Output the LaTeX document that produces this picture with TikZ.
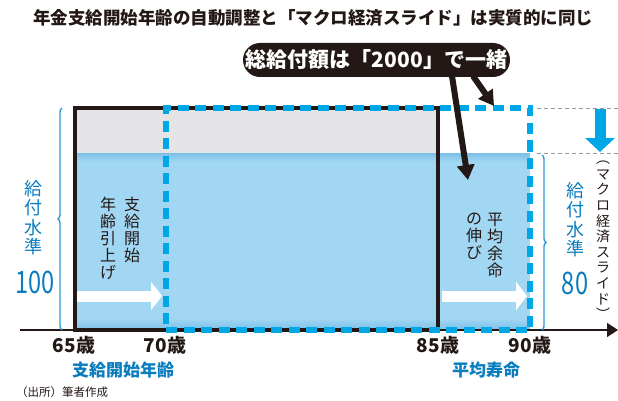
\documentclass[tikz,border=0pt]{standalone}
\usepackage{fontspec}
\usepackage{graphicx}
\setmainfont{Noto Sans CJK JP}
\usetikzlibrary{arrows.meta,decorations.pathreplacing}
\definecolor{ink}{HTML}{231815}
\definecolor{fillblue}{HTML}{A2D7F3}
\definecolor{edgeblue}{HTML}{7CC0E8}
\definecolor{graybox}{HTML}{E4E4E6}
\definecolor{dashblue}{HTML}{00A7E6}
\definecolor{txtblue}{HTML}{0A7DBF}
\definecolor{braceblue}{HTML}{2A9BD8}
\definecolor{guide}{HTML}{9A9A9A}
\tikzset{
  vcol/.style n args={2}{align=center,inner sep=0pt,font=\fontsize{#1}{#2}\selectfont},
  bluelbl/.style={text=txtblue,font=\bfseries\fontsize{17}{17}\selectfont,inner sep=0pt},
  agelbl/.style={text=ink,font=\bfseries\fontsize{19}{19}\selectfont,inner sep=0pt},
  wharrow/.style={white,line width=11pt,-{Triangle[width=28pt,length=11pt]}},
  blkarrow/.style={ink,line width=6pt,-{Triangle[width=17pt,length=15pt]}},
  bracestyle/.style={braceblue,line width=1.4pt,decorate,decoration={brace,amplitude=4pt,raise=0pt}},
}
\begin{document}
\begin{tikzpicture}[x=1pt,y=-1pt]
\useasboundingbox (0,0) rectangle (618,401);
% fills
\fill[fillblue] (75,153) rectangle (530,330);
\shade[top color=edgeblue,bottom color=fillblue] (75,153) rectangle (530,162);
\shade[top color=fillblue,bottom color=edgeblue] (75,318) rectangle (530,330);
\fill[graybox] (75,108) rectangle (438,153);
% white arrows
\coordinate (wa1s) at (77,296);
\coordinate (wa1e) at (162,296);
\coordinate (wa2s) at (442,296);
\coordinate (wa2e) at (527,296);
\draw[wharrow] (wa1s) -- (wa1e);
\draw[wharrow] (wa2s) -- (wa2e);
% axis
\coordinate (ax0) at (20,330);
\coordinate (ax1) at (618,330);
\draw[ink,line width=1.5pt,-{Triangle[width=14pt,length=11pt]}] (ax0) -- (ax1);
% black rectangle
\node (blk) [draw=ink,line width=4pt,minimum width=363pt,minimum height=222pt,inner sep=0pt] at (256.5,219) {};
% dashed rectangle
\node (dsh) [draw=dashblue,line width=6.5pt,dash pattern=on 11pt off 6.5pt,minimum width=364pt,minimum height=222pt,inner sep=0pt] at (348,219) {};
% guide lines and blue arrow
\coordinate (g1a) at (537,108);
\coordinate (g1b) at (618,108);
\coordinate (g2a) at (537,153);
\coordinate (g2b) at (618,153);
\draw[guide,line width=0.9pt,dash pattern=on 4pt off 3pt] (g1a) -- (g1b);
\draw[guide,line width=0.9pt,dash pattern=on 4pt off 3pt] (g2a) -- (g2b);
\coordinate (ba0) at (600,109);
\coordinate (ba1) at (600,152);
\draw[dashblue,line width=11pt,-{Triangle[width=29pt,length=14pt]}] (ba0) -- (ba1);
% braces
\coordinate (lb0) at (62,330);
\coordinate (lb1) at (62,108);
\draw[bracestyle] (lb0) -- (lb1);
\coordinate (rb0) at (542,155);
\coordinate (rb1) at (542,330);
\draw[bracestyle] (rb0) -- (rb1);
% title
\node (title) [text=ink,font=\bfseries\fontsize{17.5}{17.5}\selectfont,inner sep=0pt] at (313,18) {年金支給開始年齢の自動調整と「マクロ経済スライド」は実質的に同じ};
% callout
\node (callout) [fill=ink,rounded corners=17pt,minimum height=34pt,minimum width=267pt,inner sep=0pt,text=white,font=\bfseries\fontsize{21}{21}\selectfont] at (376.5,60) {総給付額は「2000」で一緒};
\coordinate (c1) at (452,76);
\coordinate (t1) at (468,180);
\coordinate (c2) at (473,76);
\coordinate (t2) at (494,106);
\draw[blkarrow] (c1) -- (t1);
\draw[blkarrow] (c2) -- (t2);
% left labels
\node (lv) [vcol={18}{19.5},text=txtblue,anchor=north] at (33,180) {給\\付\\水\\準};
\node (l100) [text=txtblue,inner sep=0pt,font=\fontsize{31}{31}\selectfont] at (35,282) {\scalebox{0.76}[1]{100}};
% inner texts
\node (in1) [vcol={16}{17},text=ink,anchor=north] at (132,197) {支\\給\\開\\始};
\node (in2) [vcol={16}{17},text=ink,anchor=north] at (108,197) {年\\齢\\引\\上\\げ};
\node (in3) [vcol={16}{17},text=ink,anchor=north] at (495,213) {平\\均\\余\\命};
\node (in4) [vcol={16}{17},text=ink,anchor=north] at (474,213) {の\\伸\\び};
% right labels
\node (rv) [vcol={18}{19.5},text=txtblue,anchor=north] at (575,182) {給\\付\\水\\準};
\node (r80) [text=txtblue,inner sep=0pt,font=\fontsize{31}{31}\selectfont] at (575,283) {\scalebox{0.76}[1]{80}};
\node (macro) [vcol={14}{15.6},text=ink,anchor=north] at (603,161) {︵\\マ\\ク\\ロ\\経\\済\\ス\\ラ\\イ\\ド\\︶};
% axis labels
\node (a65) [agelbl] at (74,345) {65歳};
\node (a70) [agelbl] at (165,345) {70歳};
\node (a85) [agelbl] at (438,345) {85歳};
\node (a90) [agelbl] at (530,345) {90歳};
\node (lbl1) [bluelbl] at (123,370) {支給開始年齢};
\node (lbl2) [bluelbl] at (486,370) {平均寿命};
\node (src) [text=ink,inner sep=0pt,anchor=west,font=\fontsize{11.5}{11.5}\selectfont] at (16,392) {（出所）筆者作成};
\end{tikzpicture}
\end{document}
